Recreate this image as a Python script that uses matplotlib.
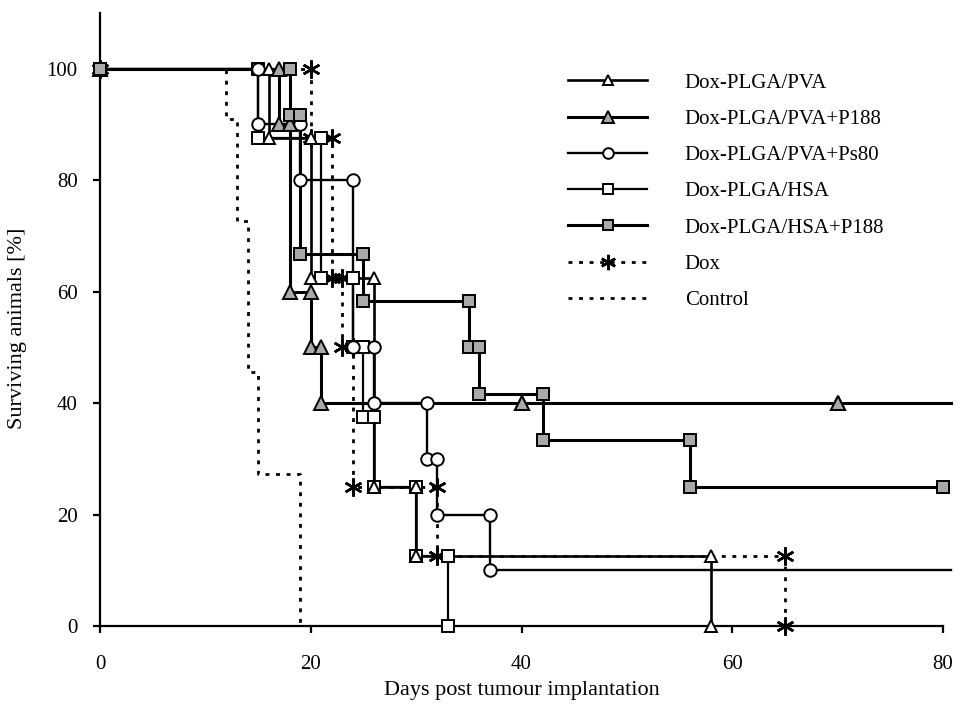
import matplotlib
matplotlib.use("Agg")
import matplotlib.pyplot as plt
from matplotlib.lines import Line2D
import numpy as np

plt.rcParams['font.family'] = ['Liberation Serif', 'DejaVu Serif']

# ---- data (event day, survival % after event) ----
pva_t = [0, 16, 20, 26, 30, 58]
pva_s = [100, 87.5, 62.5, 25, 12.5, 0]

pvap188_t = [0, 17, 18, 20, 21, 40, 70]
pvap188_s = [100, 90, 60, 50, 40, 40, 40]

ps80_t = [0, 15, 19, 24, 26, 31, 32, 37]
ps80_s = [100, 90, 80, 50, 40, 30, 20, 10]

hsa_t = [0, 15, 21, 24, 25, 26, 30, 33]
hsa_s = [100, 87.5, 62.5, 50, 37.5, 25, 12.5, 0]

hsap188_t = [0, 18, 19, 25, 35, 36, 42, 56, 80]
hsap188_s = [100, 91.7, 66.7, 58.3, 50, 41.7, 33.3, 25, 25]

dox_t = [0, 20, 22, 23, 24, 32, 65]
dox_s = [100, 87.5, 62.5, 50, 25, 12.5, 0]

ctrl_t = [0, 12, 13, 14, 15, 19]
ctrl_s = [100, 90.9, 72.7, 45.5, 27.3, 0]

labels = ["Dox-PLGA/PVA", "Dox-PLGA/PVA+P188", "Dox-PLGA/PVA+Ps80",
          "Dox-PLGA/HSA", "Dox-PLGA/HSA+P188", "Dox", "Control"]
x_ticks = [0, 20, 40, 60, 80]
y_ticks = [0, 20, 40, 60, 80, 100]
LINE_END = 80.8


def step_vertices(t, s):
    xs, ys = [t[0]], [s[0]]
    for i in range(1, len(t)):
        xs += [t[i], t[i]]
        ys += [s[i - 1], s[i]]
    return xs, ys


GRAY = '#a9a9a9'
DOT = (0, (1.4, 2.4))

fig = plt.figure(figsize=(9.63, 7.06), dpi=100)
ax = fig.add_axes([100 / 963, 1 - 626 / 706, 843 / 963, 613 / 706])

series = [
    # t, s, extend, label, marker, mfc, lw, ls, ms
    (ctrl_t, ctrl_s, False, labels[6], None, 'none', 2.0, DOT, 0),
    (dox_t, dox_s, False, labels[5], (6, 2, 0), 'k', 2.0, DOT, 13),
    (hsa_t, hsa_s, False, labels[3], 's', 'white', 1.6, '-', 8),
    (ps80_t, ps80_s, True, labels[2], 'o', 'white', 1.7, '-', 9),
    (pva_t, pva_s, False, labels[0], '^', 'white', 1.9, '-', 9),
    (pvap188_t, pvap188_s, True, labels[1], '^', GRAY, 2.2, '-', 9.5),
    (hsap188_t, hsap188_s, False, labels[4], 's', GRAY, 2.2, '-', 8.5),
]

handles = {}
for t, s, extend, lab, mk, mfc, lw, ls, ms in series:
    xs, ys = step_vertices(t, s)
    lx, ly = list(xs), list(ys)
    if extend:
        lx.append(LINE_END)
        ly.append(s[-1])
    ax.plot(lx, ly, color='k', lw=lw, ls=ls, clip_on=False, zorder=2)
    if mk is not None:
        mew = 1.8 if mk == (6, 2, 0) else 1.4
        ax.plot(xs, ys, ls='none', marker=mk, ms=ms, mfc=mfc, mec='k',
                mew=mew, clip_on=False, zorder=3)
    handles[lab] = Line2D([], [], color='k', lw=lw, ls=ls, marker=mk,
                          ms=ms * 0.85 if mk is not None else 0,
                          mfc=mfc, mec='k',
                          mew=1.8 if mk == (6, 2, 0) else 1.4)

ax.set_xlim(0, 80)
ax.set_ylim(0, 110)
ax.set_xticks(x_ticks)
ax.set_yticks(y_ticks)
for sp in ['top', 'right']:
    ax.spines[sp].set_visible(False)
for sp in ['left', 'bottom']:
    ax.spines[sp].set_linewidth(1.6)
ax.tick_params(axis='both', direction='out', length=5, width=1.6,
               labelsize=15)
ax.tick_params(axis='x', pad=16)
ax.tick_params(axis='y', pad=11)

ax.set_xlabel("Days post tumour implantation", fontsize=16, va='center')
ax.xaxis.set_label_coords(0.5, (626 - 691) / 613)
ax.set_ylabel("Surviving animals [%]", fontsize=16, va='center')
ax.yaxis.set_label_coords((18 - 100) / 843, (626 - 328) / 613)

leg = ax.legend([handles[l] for l in labels], labels, loc='upper left',
                bbox_to_anchor=(568 / 963, 1 - 73 / 706),
                bbox_transform=fig.transFigure, frameon=False,
                fontsize=15, handlelength=3.8, handletextpad=1.8,
                labelspacing=0.8, borderpad=0, borderaxespad=0,
                numpoints=1)

fig.savefig("out.png", dpi=100)
